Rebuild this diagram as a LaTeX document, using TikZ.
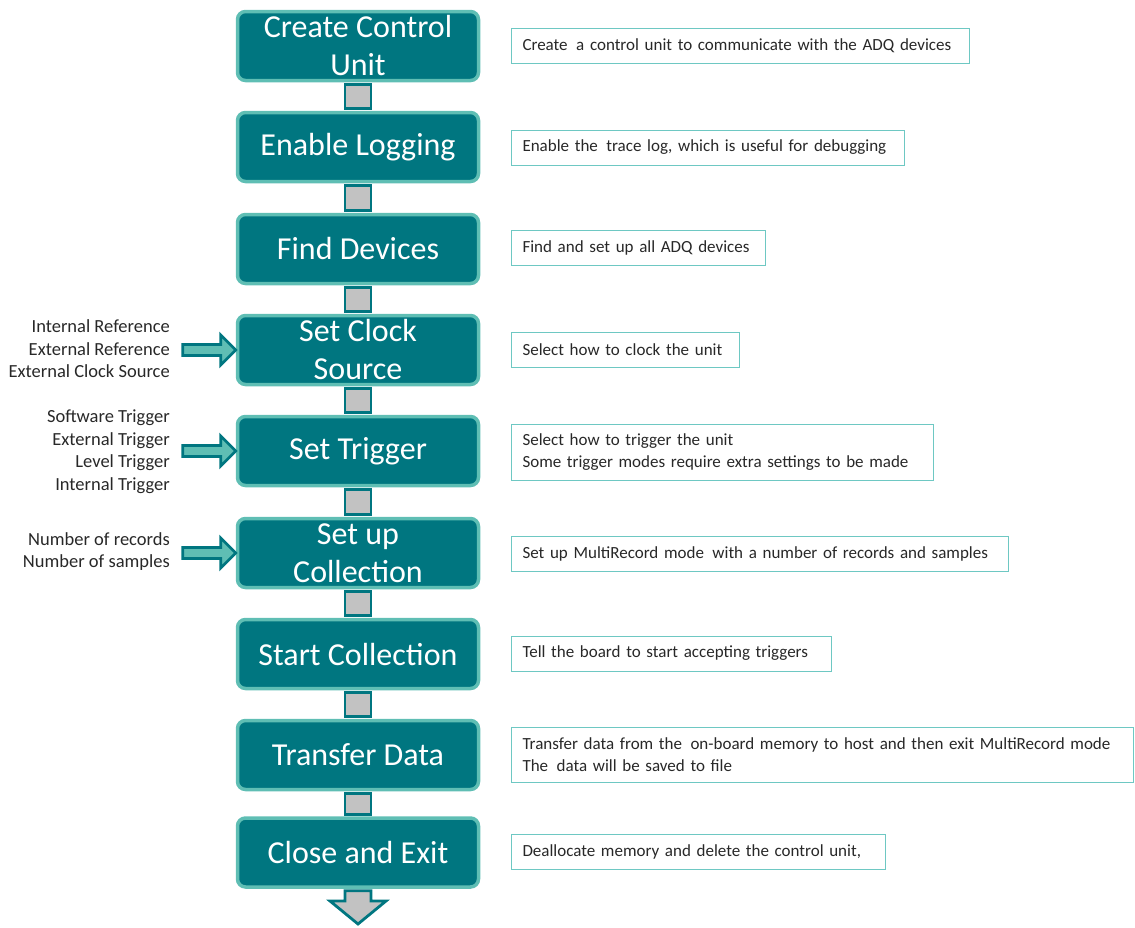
\documentclass[tikz,border=0pt]{standalone}
\usepackage{fontspec}
\setmainfont{Carlito}
\usetikzlibrary{backgrounds}
\definecolor{tealdark}{RGB}{0,118,128}
\definecolor{teallight}{RGB}{95,190,180}
\definecolor{descborder}{RGB}{110,200,195}
\definecolor{bargrey}{RGB}{194,194,194}
\definecolor{txtgrey}{RGB}{40,40,40}
\tikzset{
  stepbox/.style={draw=teallight, line width=3.5pt, fill=tealdark, rounded corners=8pt,
    minimum width=241pt, minimum height=69pt, text=white, align=center,
    font=\fontsize{32}{38}\selectfont, inner sep=0pt},
  descbox/.style={draw=descborder, line width=1pt, fill=white, anchor=west,
    inner xsep=11pt, inner ysep=0pt, align=left, text=txtgrey,
    font=\fontsize{17}{22}\selectfont},
  sidelabel/.style={anchor=east, align=right, text=txtgrey, inner sep=0pt,
    font=\fontsize{18.5}{22.5}\selectfont},
  bar/.style={draw=tealdark, line width=2.8pt, fill=bargrey},
  sidearrow/.style={draw=tealdark, line width=2.8pt, fill=teallight, line join=miter},
}
\begin{document}
\begin{tikzpicture}[x=1pt,y=-1pt]
\useasboundingbox (0,0) rectangle (1135,927);
% step boxes
\node[stepbox] (b1) at (358,46) {Create Control\\Unit};
\node[stepbox] (b2) at (358,147) {Enable Logging};
\node[stepbox] (b3) at (358,249) {Find Devices};
\node[stepbox] (b4) at (358,350) {Set Clock\\Source};
\node[stepbox] (b5) at (358,451) {Set Trigger};
\node[stepbox] (b6) at (358,553) {Set up\\Collection};
\node[stepbox] (b7) at (358,654) {Start Collection};
\node[stepbox] (b8) at (358,755) {Transfer Data};
\node[stepbox] (b9) at (358,852.5) {Close and Exit};
\coordinate (end) at (358,924);
% connectors
\begin{scope}[on background layer]
\foreach \a/\b in {b1/b2,b2/b3,b3/b4,b4/b5,b5/b6,b6/b7,b7/b8,b8/b9}{
  \draw[bar] ([xshift=-13pt,yshift=-2pt]\a.south) rectangle ([xshift=13pt,yshift=2pt]\b.north);
}
\draw[bar, line join=miter] ([xshift=-13pt,yshift=-2pt]b9.south) -- ([xshift=-13pt]b9.south |- 0,901)
  -- (330,901) -- (end) -- (386,901) -- ([xshift=13pt]b9.south |- 0,901)
  -- ([xshift=13pt,yshift=-2pt]b9.south) -- cycle;
\end{scope}
% side labels and arrows
\node[sidelabel] (l4) at (170,349) {Internal Reference\\External Reference\\External Clock Source};
\node[sidelabel] (l5) at (170,451.5) {Software Trigger\\External Trigger\\Level Trigger\\Internal Trigger};
\node[sidelabel] (l6) at (170,551.5) {Number of records\\Number of samples};
\foreach \n in {b4,b5,b6}{
  \draw[sidearrow] ([xshift=-53pt,yshift=-5.5pt]\n.west) -- ([xshift=-15pt,yshift=-5.5pt]\n.west)
    -- ([xshift=-15pt,yshift=-15pt]\n.west) -- ([xshift=0pt]\n.west)
    -- ([xshift=-15pt,yshift=15pt]\n.west) -- ([xshift=-15pt,yshift=5.5pt]\n.west)
    -- ([xshift=-53pt,yshift=5.5pt]\n.west) -- cycle;
}
% descriptions
\node[descbox, minimum width=458pt, minimum height=35pt, text width=436pt] (d1) at (511,45.5) {Create\enspace a control unit to communicate with the ADQ devices};
\node[descbox, minimum width=393pt, minimum height=35pt, text width=371pt] (d2) at (511,147.5) {Enable the\enspace trace log, which is useful for debugging};
\node[descbox, minimum width=254pt, minimum height=35pt, text width=232pt] (d3) at (511,247.5) {Find and set up all ADQ devices};
\node[descbox, minimum width=228pt, minimum height=35pt, text width=206pt] (d4) at (511,349.5) {Select how to clock the unit};
\node[descbox, minimum width=422pt, minimum height=56pt, text width=400pt] (d5) at (511,452) {Select how to trigger the unit\\Some trigger modes require extra settings to be made};
\node[descbox, minimum width=497pt, minimum height=35pt, text width=475pt] (d6) at (511,553.5) {Set up MultiRecord mode\enspace with a number of records and samples};
\node[descbox, minimum width=320pt, minimum height=35pt, text width=298pt] (d7) at (511,653.5) {Tell the board to start accepting triggers};
\node[descbox, minimum width=622pt, minimum height=55pt, text width=600pt] (d8) at (511,754.5) {Transfer data from the\enspace on-board memory to host and then exit MultiRecord mode\\The\enspace data will be saved to file};
\node[descbox, minimum width=374pt, minimum height=35pt, text width=352pt] (d9) at (511,851.5) {Deallocate memory and delete the control unit,};
\end{tikzpicture}
\end{document}
